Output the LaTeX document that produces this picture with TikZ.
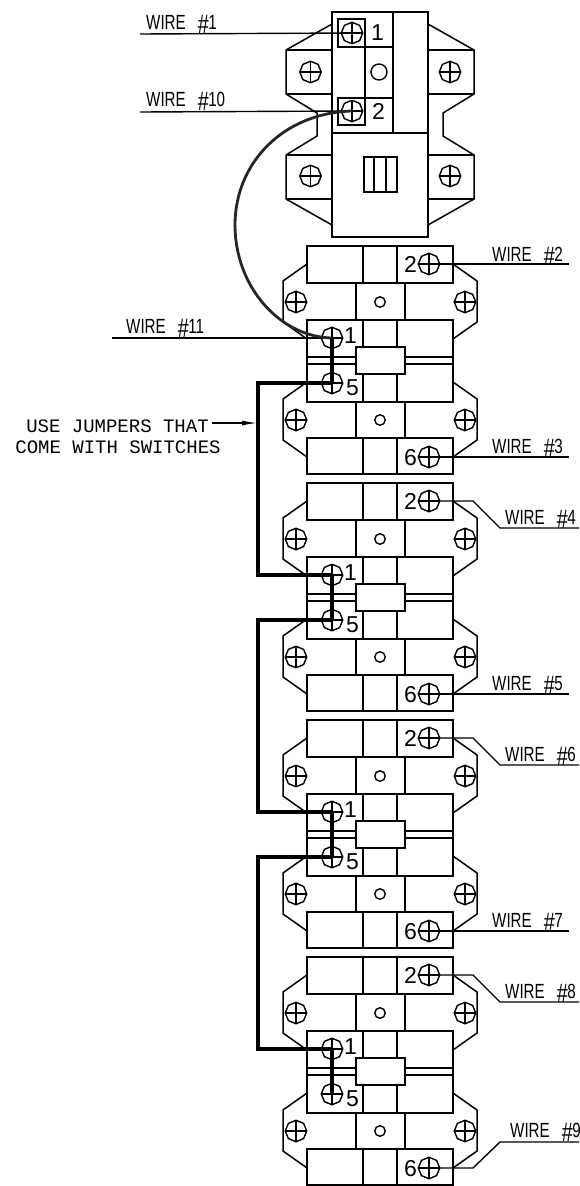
\documentclass[tikz,border=0pt]{standalone}
\usepackage{fontspec}
\usepackage{graphicx}
\setmainfont{Liberation Sans}
\newfontfamily\wirefont[FakeStretch=0.74]{Liberation Sans}
\newfontfamily\notefont{Liberation Mono}
\usetikzlibrary{shapes.geometric,arrows.meta}
\tikzset{
  ln/.style={line width=1.5pt,line join=miter},
  thin wire/.style={line width=1.4pt},
  jumper/.style={line width=3.2pt,line join=miter},
  loopwire/.style={line width=2.8pt,black!85},
  screw/.style={regular polygon,regular polygon sides=8,shape border rotate=22.5,draw,line width=1.4pt,
    minimum size=21.5pt,inner sep=0pt,
    path picture={\draw[line width=1.4pt] (path picture bounding box.north)--(path picture bounding box.south)
      (path picture bounding box.west)--(path picture bounding box.east);}},
  hole/.style={circle,draw,line width=1.4pt,inner sep=0pt},
  digit/.style={anchor=base west,inner sep=0pt,font=\fontsize{23}{23}\selectfont},
  wirelabel/.style={anchor=base west,inner sep=0pt,font=\wirefont\fontsize{20.5}{20.5}\selectfont},
  note/.style={anchor=base,inner sep=0pt,font=\notefont\fontsize{19}{19}\selectfont}
}
\newcommand{\wirelab}[1]{WIRE\hspace{12pt}\raisebox{-4.5pt}{\scalebox{1.3}[1.3]{\#}}\hspace{-0.5pt}#1}
\begin{document}
\begin{tikzpicture}[x=1pt,y=-1pt]
\useasboundingbox (0,0) rectangle (579,1186);
% --- top switch
\draw[ln] (332,12) rectangle (428,237);
\draw[ln] (332,133)--(428,133) (393,12)--(393,133);
\draw[ln] (365,47)--(393,47) (365,98)--(393,98) (365,47)--(365,98);
\draw[ln] (338,19) rectangle (365,47);
\draw[ln] (338,98) rectangle (365,125);
\draw[ln] (332,24)--(286,50)--(286,94)--(317,113)--(317,136)--(286,155)--(286,199)--(332,225);
\draw[ln] (428,24)--(474,50)--(474,94)--(443,113)--(443,136)--(474,155)--(474,199)--(428,225);
\draw[ln] (286,50)--(332,50) (286,94)--(332,94) (286,155)--(332,155) (286,199)--(332,199);
\draw[ln] (428,50)--(474,50) (428,94)--(474,94) (428,155)--(474,155) (428,199)--(474,199);
\draw[ln] (364,157) rectangle (397,192);
\draw[ln] (374,157)--(374,192) (386,157)--(386,192);
\node[hole,minimum size=16pt] (tophole) at (379,72) {};
\node[screw] (ts1) at (352,33) {};
\node[screw] (ts2) at (352,111) {};
\node[screw] (tel1) at (310.5,72) {};
\node[screw] (ter1) at (450,72) {};
\node[screw] (tel2) at (310.5,176) {};
\node[screw] (ter2) at (450,176) {};
\node[digit] (tn1) at (371,40) {1};
\node[digit] (tn2) at (372,119) {2};
% --- switch modules
\foreach \m in {1,2,3,4}{
\begin{scope}[yshift={-237pt*(\m-1)}]
  \draw[ln] (307,246) rectangle (453,283);
  \draw[ln] (363,246)--(363,283) (397,246)--(397,283);
  \draw[ln] (356,283)--(356,320) (405,283)--(405,320);
  \draw[ln] (307,320) rectangle (453,402);
  \draw[ln] (363,320)--(363,347) (397,320)--(397,347) (363,374)--(363,402) (397,374)--(397,402);
  \draw[ln,fill=white] (356,347) rectangle (405,374);
  \draw[line width=1.2pt] (307,357)--(356,357) (307,364)--(356,364) (405,357)--(453,357) (405,364)--(453,364);
  \draw[ln] (356,402)--(356,438) (405,402)--(405,438);
  \draw[ln] (307,438) rectangle (453,474);
  \draw[ln] (363,438)--(363,474) (397,438)--(397,474);
  \draw[ln] (307,264)--(283,281)--(283,322)--(307,339);
  \draw[ln] (453,264)--(477,281)--(477,322)--(453,339);
  \draw[ln] (307,382)--(283,399)--(283,440)--(307,457);
  \draw[ln] (453,382)--(477,399)--(477,440)--(453,457);
  \node[hole,minimum size=10.5pt] (hu\m) at (380,302) {};
  \node[hole,minimum size=10.5pt] (hl\m) at (380,420) {};
  \node[screw] (elu\m) at (296,302) {};
  \node[screw] (eru\m) at (465,302) {};
  \node[screw] (ell\m) at (296,420) {};
  \node[screw] (erl\m) at (465,420) {};
  \node[screw] (t\m) at (429,264) {};
  \node[screw] (b\m) at (429,457) {};
  \node[screw] (a\m) at (332,338) {};
  \node[screw] (e\m) at (332,383) {};
  \node[digit] (n2\m) at (404,272) {2};
  \node[digit] (n6\m) at (404,465) {6};
  \node[digit] (n1\m) at (344,343) {1};
  \node[digit] (n5\m) at (346,395) {5};
\end{scope}
\draw[jumper] (a\m.center)--(e\m.center);
}
% --- free wire ends
\coordinate (w1) at (140,34);
\coordinate (w10) at (140,112);
\coordinate (w11) at (112,338);
\coordinate (w2) at (569,264);
\coordinate (w3) at (569,457);
\coordinate (w5) at (569,694);
\coordinate (w7) at (569,931);
\coordinate (k4a) at (473,501);  \coordinate (k4b) at (500,528);  \coordinate (w4) at (579,528);
\coordinate (k6a) at (473,738);  \coordinate (k6b) at (500,765);  \coordinate (w6) at (579,765);
\coordinate (k8a) at (473,975);  \coordinate (k8b) at (500,1002); \coordinate (w8) at (579,1002);
\coordinate (k9a) at (473,1168); \coordinate (k9b) at (500,1142); \coordinate (w9) at (579,1142);
% --- wires
\draw[thin wire] (w1)--(ts1.center);
\draw[thin wire] (w10)--(ts2.center);
\draw[thin wire] (w11)--(a1.center);
\draw[thin wire] (t1.center)--(w2);
\draw[thin wire] (b1.center)--(w3);
\draw[thin wire] (b2.center)--(w5);
\draw[thin wire] (b3.center)--(w7);
\draw[thin wire] (t2.center)--(k4a)--(k4b)--(w4);
\draw[thin wire] (t3.center)--(k6a)--(k6b)--(w6);
\draw[thin wire] (t4.center)--(k8a)--(k8b)--(w8);
\draw[thin wire] (b4.center)--(k9a)--(k9b)--(w9);
% --- looping wire
\coordinate (lp) at (235,225);
\draw[loopwire] (ts2.center) .. controls (283,113) and (235,163) .. (lp)
  .. controls (235,287) and (280,337) .. (a1.center);
% --- jumpers
\coordinate (j1) at (258,480);
\coordinate (j2) at (258,716);
\coordinate (j3) at (258,953);
\draw[jumper] (e1.center) -| (j1) |- (a2.center);
\draw[jumper] (e2.center) -| (j2) |- (a3.center);
\draw[jumper] (e3.center) -| (j3) |- (a4.center);
% --- labels
\node[wirelabel] (l1) at (146,29) {\wirelab{1}};
\node[wirelabel] (l10) at (146,106) {\wirelab{10}};
\node[wirelabel] (l11) at (126,333) {\wirelab{11}};
\node[wirelabel] (l2) at (492,261) {\wirelab{2}};
\node[wirelabel] (l3) at (492,453) {\wirelab{3}};
\node[wirelabel] (l4) at (505,524) {\wirelab{4}};
\node[wirelabel] (l5) at (492,690) {\wirelab{5}};
\node[wirelabel] (l6) at (505,761) {\wirelab{6}};
\node[wirelabel] (l7) at (492,927) {\wirelab{7}};
\node[wirelabel] (l8) at (505,998) {\wirelab{8}};
\node[wirelabel] (l9) at (510,1137) {\wirelab{9}};
\node[note] (use1) at (117.5,432) {USE JUMPERS THAT};
\node[note] (use2) at (118,453) {COME WITH SWITCHES};
\coordinate (ars) at (212,423);
\coordinate (are) at (257,423);
\draw[line width=1.2pt,-{Latex[length=15pt,width=5pt]}] (ars)--(are);
\end{tikzpicture}
\end{document}
